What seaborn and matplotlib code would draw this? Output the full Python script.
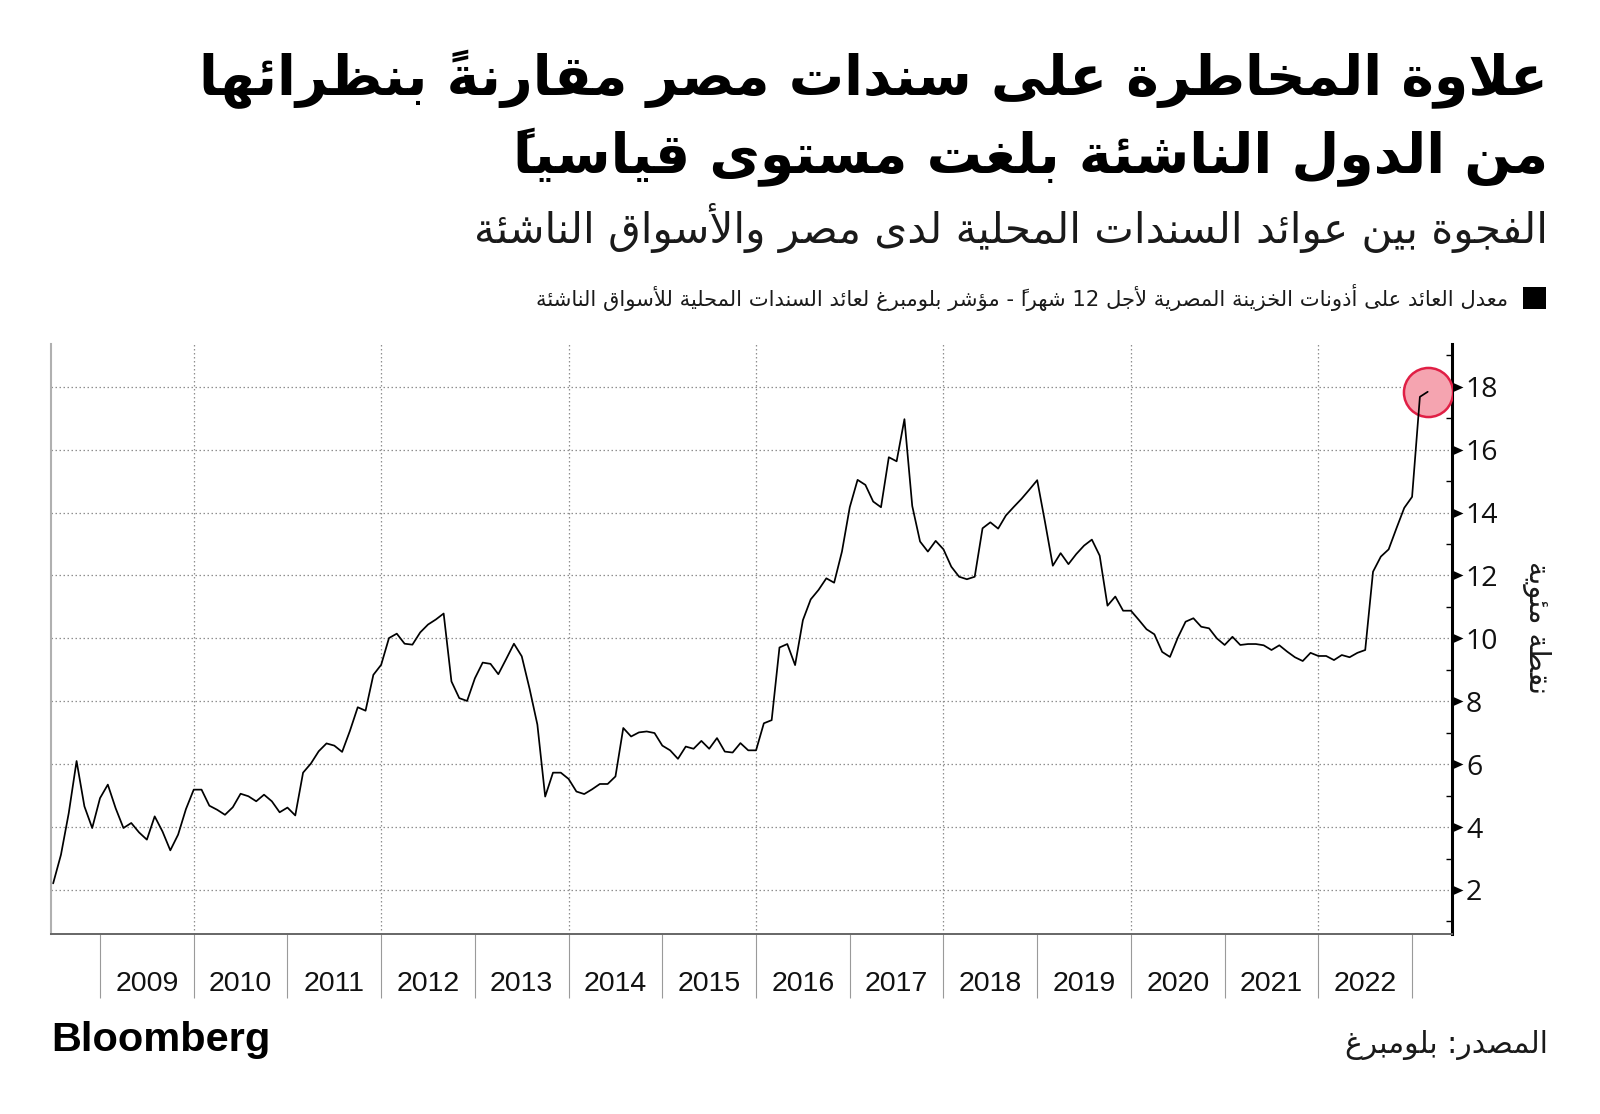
import matplotlib
matplotlib.use('Agg')
import matplotlib.pyplot as plt
import seaborn as sns
import numpy as np
import pandas as pd
from matplotlib.path import Path
from matplotlib.patches import Rectangle

# ---------------- data ----------------
start_month = '2008-07'
spread = [
    2.21, 3.12, 4.45, 6.10, 4.66, 3.97,                                         # 2008 H2
    4.92, 5.35, 4.60, 3.97, 4.13, 3.83, 3.60, 4.34, 3.86, 3.26, 3.76, 4.57,     # 2009
    5.19, 5.19, 4.68, 4.55, 4.39, 4.63, 5.06, 4.98, 4.82, 5.03, 4.82, 4.47,     # 2010
    4.62, 4.37, 5.73, 6.02, 6.41, 6.66, 6.59, 6.39, 7.06, 7.81, 7.70, 8.84,     # 2011
    9.16, 10.01, 10.15, 9.83, 9.80, 10.19, 10.44, 10.60, 10.79, 8.63, 8.10, 8.01,  # 2012
    8.73, 9.23, 9.19, 8.86, 9.34, 9.83, 9.43, 8.40, 7.26, 4.97, 5.73, 5.73,     # 2013
    5.53, 5.13, 5.05, 5.20, 5.37, 5.37, 5.61, 7.15, 6.88, 7.01, 7.04, 6.99,     # 2014
    6.59, 6.44, 6.17, 6.56, 6.49, 6.74, 6.49, 6.83, 6.40, 6.37, 6.67, 6.44,     # 2015
    6.44, 7.30, 7.40, 9.71, 9.82, 9.15, 10.58, 11.24, 11.54, 11.91, 11.77, 12.76,  # 2016
    14.17, 15.04, 14.88, 14.35, 14.17, 15.76, 15.63, 16.97, 14.21, 13.08, 12.76, 13.10,  # 2017
    12.83, 12.28, 11.96, 11.88, 11.96, 13.50, 13.69, 13.49, 13.91, 14.18, 14.44, 14.73,  # 2018
    15.03, 13.70, 12.31, 12.71, 12.36, 12.68, 12.95, 13.14, 12.63, 11.04, 11.33, 10.88,  # 2019
    10.88, 10.59, 10.29, 10.13, 9.57, 9.41, 10.02, 10.53, 10.64, 10.37, 10.32, 10.00,    # 2020
    9.79, 10.05, 9.79, 9.82, 9.82, 9.78, 9.63, 9.78, 9.58, 9.40, 9.28, 9.54,     # 2021
    9.44, 9.44, 9.31, 9.47, 9.40, 9.54, 9.63, 12.12, 12.60, 12.83, 13.50, 14.15,  # 2022
    14.50, 17.68, 17.84,                                                          # 2023
]
label_years = list(range(2009, 2023))
tick_years = list(range(2009, 2024))
grid_years = list(range(2010, 2023, 2))
y_major = [2, 4, 6, 8, 10, 12, 14, 16, 18]
y_minor = [1, 3, 5, 7, 9, 11, 13, 15, 17, 19]

title1 = 'علاوة المخاطرة على سندات مصر مقارنةً بنظرائها'
title2 = 'من الدول الناشئة بلغت مستوى قياسياً'
subtitle = 'الفجوة بين عوائد السندات المحلية لدى مصر والأسواق الناشئة'
legend_label = 'معدل العائد على أذونات الخزينة المصرية لأجل 12 شهراً - مؤشر بلومبرغ لعائد السندات المحلية للأسواق الناشئة'
ylabel_text = 'نقطة مئوية'
source_text = 'المصدر: بلومبرغ'
logo_text = 'Bloomberg'

# ---------------- Arabic shaping (presentation forms + visual order) ----------------
_DUAL = {0x0626: 0xFE89, 0x0628: 0xFE8F, 0x062A: 0xFE95, 0x062B: 0xFE99, 0x062C: 0xFE9D,
         0x062D: 0xFEA1, 0x062E: 0xFEA5, 0x0633: 0xFEB1, 0x0634: 0xFEB5, 0x0635: 0xFEB9,
         0x0636: 0xFEBD, 0x0637: 0xFEC1, 0x0638: 0xFEC5, 0x0639: 0xFEC9, 0x063A: 0xFECD,
         0x0641: 0xFED1, 0x0642: 0xFED5, 0x0643: 0xFED9, 0x0644: 0xFEDD, 0x0645: 0xFEE1,
         0x0646: 0xFEE5, 0x0647: 0xFEE9, 0x064A: 0xFEF1}
_RIGHT = {0x0622: 0xFE81, 0x0623: 0xFE83, 0x0624: 0xFE85, 0x0625: 0xFE87, 0x0627: 0xFE8D,
          0x0629: 0xFE93, 0x062F: 0xFEA9, 0x0630: 0xFEAB, 0x0631: 0xFEAD, 0x0632: 0xFEAF,
          0x0648: 0xFEED, 0x0649: 0xFEEF}
_LAMALEF = {0x0622: 0xFEF5, 0x0623: 0xFEF7, 0x0625: 0xFEF9, 0x0627: 0xFEFB}


def _is_mark(c):
    o = ord(c)
    return 0x064B <= o <= 0x0652 or o == 0x0670


def _shape(text):
    chars = list(text)
    items = []
    i = 0
    while i < len(chars):
        c = chars[i]
        o = ord(c)
        if _is_mark(c):
            if items:
                items[-1][2].append(c)
            i += 1
            continue
        if o == 0x0644:
            j = i + 1
            marks = []
            while j < len(chars) and _is_mark(chars[j]):
                marks.append(chars[j])
                j += 1
            if j < len(chars) and ord(chars[j]) in _LAMALEF:
                items.append([_LAMALEF[ord(chars[j])], 'R', marks])
                i = j + 1
                continue
        if o in _DUAL:
            items.append([_DUAL[o], 'D', []])
        elif o in _RIGHT:
            items.append([_RIGHT[o], 'R', []])
        else:
            items.append([c, 'N', []])
        i += 1
    out = []
    for k, (base, jt, marks) in enumerate(items):
        if jt == 'N':
            out.append(''.join(marks) + base)
            continue
        prev_j = k > 0 and items[k - 1][1] == 'D'
        next_j = jt == 'D' and k + 1 < len(items) and items[k + 1][1] in ('D', 'R')
        if jt == 'D':
            off = 3 if (prev_j and next_j) else 2 if next_j else 1 if prev_j else 0
        else:
            off = 1 if prev_j else 0
        # marks first: in visual (left-to-right) drawing order the DejaVu mark
        # outline lies to the right of the pen, i.e. over the following glyph
        out.append(''.join(marks) + chr(base + off))
    return out


def ar(text):
    runs = []
    for cl in _shape(text):
        ltr = cl[-1].isascii() and cl[-1].isalnum()
        if ltr and runs and runs[-1][0]:
            runs[-1][1] += cl
        else:
            runs.append([ltr, cl])
    return ''.join(r[1] for r in reversed(runs))


# ---------------- figure ----------------
sns.set_style('white')
plt.rcParams['font.family'] = ['DejaVu Sans']

W, H = 1600, 1114
fig = plt.figure(figsize=(W / 100, H / 100), dpi=100)
fig.patch.set_facecolor('white')


def P(x, y):
    return (x / W, 1 - y / H)


ax_l, ax_r, ax_t, ax_b = 51, 1452, 344, 934
ax = fig.add_axes([ax_l / W, 1 - ax_b / H, (ax_r - ax_l) / W, (ax_b - ax_t) / H])

dates = pd.date_range(start_month, periods=len(spread), freq='MS')
df = pd.DataFrame({'t': dates.year + (dates.month - 1) / 12.0, 'spread': spread})

sns.lineplot(data=df, x='t', y='spread', ax=ax, color='black', linewidth=1.25,
             estimator=None, zorder=4)
last = df.iloc[[-1]]
sns.scatterplot(data=last, x='t', y='spread', ax=ax, s=1250, color='#f5a4b0',
                edgecolor='#e01f45', linewidth=1.8, zorder=3, legend=False)

ax.set_xlim(2008.477, 2023.426)
ax.set_ylim(0.6, 19.36)
ax.set_xlabel('')
ax.set_ylabel('')

# grid
ax.grid(False)
for v in y_major:
    ax.axhline(v, color='#8f8f8f', lw=0.9, ls=(0, (1.2, 2.0)), zorder=1)
for yr in grid_years:
    ax.axvline(yr, color='#8f8f8f', lw=0.9, ls=(0, (1.2, 2.0)), zorder=1)

# x axis
ax.set_xticks(tick_years)
ax.set_xticklabels([])
ax.set_xticks([y + 0.5 for y in label_years], minor=True)
ax.set_xticklabels([str(y) for y in label_years], minor=True)
ax.tick_params(axis='x', which='major', bottom=True, length=46, width=0.8,
               color='#9a9a9a', direction='out')
ax.tick_params(axis='x', which='minor', bottom=True, length=0, pad=26.5, labelsize=20.5,
               labelcolor='#111111', labelbottom=True)
for lab in ax.get_xticklabels(minor=True):
    lab.set_fontfamily(['Liberation Sans Narrow', 'Liberation Sans', 'DejaVu Sans'])

# y axis on the right
ax.yaxis.tick_right()
ax.set_yticks(y_major)
ax.set_yticklabels([str(v) for v in y_major])
ax.set_yticks(y_minor, minor=True)
ax.tick_params(axis='y', which='major', length=0, pad=10, labelsize=20.5,
               labelcolor='#111111', right=True, left=False)
ax.tick_params(axis='y', which='minor', length=4.5, width=1.0, direction='in',
               color='black', right=True, left=False)
tri = Path([[0, -0.45], [1, 0], [0, 0.45], [0, -0.45]],
           [Path.MOVETO, Path.LINETO, Path.LINETO, Path.CLOSEPOLY])
for t in ax.yaxis.get_major_ticks():
    t.tick2line.set_marker(tri)
    t.tick2line.set_markersize(15.8)
    t.tick2line.set_markerfacecolor('black')
    t.tick2line.set_markeredgecolor('black')
    t.tick2line.set_markeredgewidth(0)
for lab in ax.get_yticklabels():
    lab.set_fontfamily(['Open Sans', 'DejaVu Sans'])

# spines
ax.spines['top'].set_visible(False)
ax.spines['right'].set_color('black')
ax.spines['right'].set_linewidth(2.2)
ax.spines['left'].set_color('#b0b0b0')
ax.spines['left'].set_linewidth(1.5)
ax.spines['bottom'].set_color('#666666')
ax.spines['bottom'].set_linewidth(1.4)

# ---------------- texts ----------------
renderer = fig.canvas.get_renderer()


def fit(txt, width_px):
    bb = txt.get_window_extent(renderer)
    txt.set_fontsize(txt.get_fontsize() * width_px / bb.width)
    return txt


t1 = fig.text(*P(1548, 95), ar(title1), ha='right', va='baseline', fontsize=50,
              fontweight='bold', color='black')
fit(t1, 1349)
t2 = fig.text(*P(1548, 173), ar(title2), ha='right', va='baseline',
              fontsize=t1.get_fontsize(), fontweight='bold', color='black')

st = fig.text(*P(1548, 243), ar(subtitle), ha='right', va='baseline', fontsize=28,
              color='#1a1a1a')
fit(st, 1073)

fig.add_artist(Rectangle(P(1523, 309), 23 / W, 22 / H, transform=fig.transFigure,
                         facecolor='black', edgecolor='none'))
lg = fig.text(*P(1508, 306), ar(legend_label), ha='right', va='baseline', fontsize=15,
              color='#1a1a1a')
fit(lg, 979)

yl = fig.text(*P(1537, 628), ar(ylabel_text), ha='center', va='center', fontsize=16,
              color='#1a1a1a')
fit(yl, 133)
yl.set_rotation(270)

src = fig.text(*P(1548, 1053), ar(source_text), ha='right', va='baseline', fontsize=22,
               color='#1a1a1a')
fit(src, 203)

logo = fig.text(*P(51, 1051), logo_text, ha='left', va='baseline', fontsize=34,
                fontweight='heavy', color='black',
                family=['Liberation Sans Narrow', 'Liberation Sans', 'DejaVu Sans'])
fit(logo, 219)

fig.savefig('out.png', dpi=100, facecolor='white')
